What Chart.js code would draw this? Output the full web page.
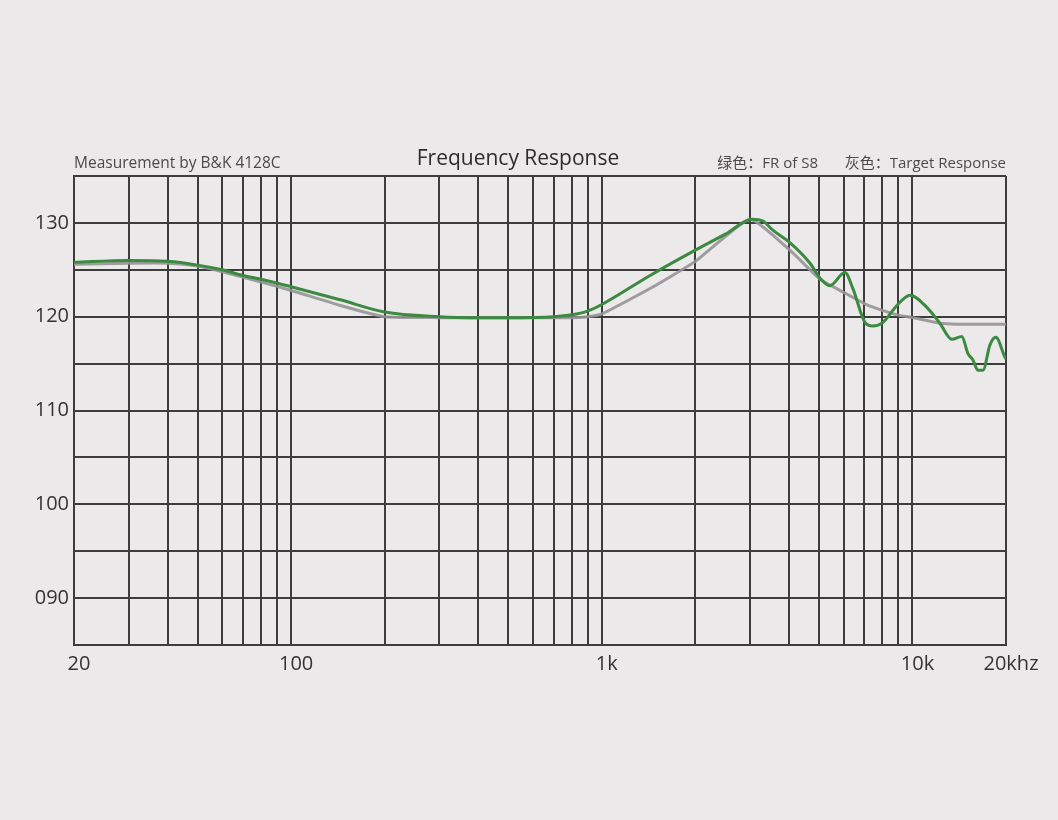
<!DOCTYPE html>
<html>
<head>
<meta charset="utf-8">
<title>Frequency Response</title>
<script src="https://cdn.jsdelivr.net/npm/chart.js@4/dist/chart.umd.min.js"></script>
<style>
    html, body { margin: 0; padding: 0; background: #ebe9ea; }
    #wrap { width: 1058px; height: 820px; }
</style>
</head>
<body>
<div id="wrap"><canvas id="fr-chart" width="1058" height="820"></canvas></div>
<script>
// measured response of S8 (green)
var greenFreq = [20, 30, 40, 50, 60, 70, 80, 100, 144, 200,
    300, 400, 500, 700, 800, 900, 1000, 1430, 2000, 2500,
    3050, 3300, 3560, 4030, 4680, 5040, 5420, 6060, 6430, 7030,
    7460, 8040, 8910, 9820, 11120, 12250, 13390, 14420, 15070, 15640,
    16240, 16860, 17760, 18550, 19840, 20000];
var greenDb = [125.8, 126.0, 125.9, 125.5, 125.0, 124.4, 124.0, 123.2, 121.8, 120.5,
    120.0, 119.9, 119.9, 120.0, 120.2, 120.6, 121.3, 124.4, 127.1, 128.8,
    130.4, 130.2, 129.2, 127.9, 125.7, 124.1, 123.3, 124.7, 123.0, 119.4,
    119.0, 119.4, 121.2, 122.3, 121.0, 119.3, 117.6, 117.9, 116.1, 115.4,
    114.3, 114.3, 117.0, 117.8, 115.7, 115.5];

// target response (grey)
var greyFreq = [20, 30, 40, 50, 60, 80, 100, 144, 200, 300,
    500, 800, 900, 1000, 1430, 2000, 3000, 4030, 5040, 6000,
    7200, 8900, 10000, 12250, 14000, 20000];
var greyDb = [125.6, 125.7, 125.7, 125.4, 124.8, 123.7, 122.8, 121.2, 120.0, 119.9,
    119.9, 119.9, 120.0, 120.3, 123.0, 125.9, 130.4, 127.1, 124.0, 122.6,
    121.2, 120.2, 119.9, 119.3, 119.2, 119.2];

// vertical grid lines and the few that get a label
var gridFreqs = [20, 30, 40, 50, 60, 70, 80, 90, 100,
    200, 300, 400, 500, 600, 700, 800, 900, 1000,
    2000, 3000, 4000, 5000, 6000, 7000, 8000, 9000, 10000, 20000];
var freqLabels = {20: "20", 100: "100", 1000: "1k", 10000: "10k", 20000: "20khz"};
var dbLabels = {130: "130", 120: "120", 110: "110", 100: "100", 90: "090"};

var headerLeft = "Measurement by B&K 4128C";
var titleText = "Frequency Response";
var legendGreen = "绿色：FR of S8";
var legendGrey = "灰色：Target Response";

var FONT = "'Open Sans', 'Noto Sans', 'Noto Sans CJK SC', sans-serif";
var GRID = "#3d3d3d";
var TEXT = "#333333";

function toPoints(xs, ys) {
    var pts = [];
    for (var i = 0; i < xs.length; i++) {
        pts.push({x: xs[i], y: ys[i]});
    }
    return pts;
}

var backgroundPlugin = {
    id: "bg",
    beforeDraw: function (chart) {
        var ctx = chart.ctx;
        ctx.save();
        ctx.fillStyle = "#ebe9ea";
        ctx.fillRect(0, 0, chart.width, chart.height);
        ctx.restore();
    }
};

// header texts above the plot
var headerPlugin = {
    id: "header",
    afterDraw: function (chart) {
        var ctx = chart.ctx;
        var area = chart.chartArea;
        ctx.save();
        ctx.textBaseline = "alphabetic";

        ctx.fillStyle = "#4a4a4a";
        ctx.font = "15.5px " + FONT;
        ctx.textAlign = "left";
        ctx.fillText(headerLeft, area.left, 168);

        ctx.textAlign = "right";
        ctx.font = "15px " + FONT;
        ctx.fillText(legendGrey, area.right, 168);
        ctx.fillText(legendGreen, 818, 168);

        ctx.fillStyle = "#2c2c2c";
        ctx.font = "21px " + FONT;
        ctx.textAlign = "center";
        ctx.fillText(titleText, 518, 165);
        ctx.restore();
    }
};

var chart = new Chart(document.getElementById("fr-chart").getContext("2d"), {
    type: "line",
    data: {
        datasets: [
            {
                label: "FR of S8",
                data: toPoints(greenFreq, greenDb),
                borderColor: "#3b8a40",
                borderWidth: 3,
                pointRadius: 0,
                cubicInterpolationMode: "monotone",
                fill: false,
                order: 0
            },
            {
                label: "Target Response",
                data: toPoints(greyFreq, greyDb),
                borderColor: "rgba(150, 148, 150, 0.9)",
                borderWidth: 3,
                pointRadius: 0,
                tension: 0.15,
                fill: false,
                order: 1
            }
        ]
    },
    options: {
        responsive: false,
        animation: false,
        layout: {padding: {top: 176, right: 52, left: 0, bottom: 0}},
        plugins: {
            legend: {display: false},
            title: {display: false},
            tooltip: {enabled: false}
        },
        scales: {
            x: {
                type: "logarithmic",
                min: 20,
                max: 20000,
                afterBuildTicks: function (scale) {
                    scale.ticks = gridFreqs.map(function (v) { return {value: v}; });
                },
                afterFit: function (scale) { scale.height = 175; },
                grid: {color: GRID, lineWidth: 2, drawTicks: false},
                border: {display: true, color: GRID, width: 2},
                ticks: {
                    autoSkip: false,
                    maxRotation: 0,
                    padding: 7,
                    labelOffset: 5,
                    color: TEXT,
                    font: {family: FONT, size: 20},
                    callback: function (value) {
                        return freqLabels[value] || "";
                    }
                }
            },
            y: {
                type: "linear",
                min: 85,
                max: 135,
                afterFit: function (scale) { scale.width = 74; },
                grid: {color: GRID, lineWidth: 2, drawTicks: false},
                border: {display: true, color: GRID, width: 2},
                ticks: {
                    stepSize: 5,
                    autoSkip: false,
                    padding: 5,
                    color: TEXT,
                    font: {family: FONT, size: 20},
                    callback: function (value) {
                        return dbLabels[value] || "";
                    }
                }
            }
        }
    },
    plugins: [backgroundPlugin, headerPlugin]
});
</script>
</body>
</html>
